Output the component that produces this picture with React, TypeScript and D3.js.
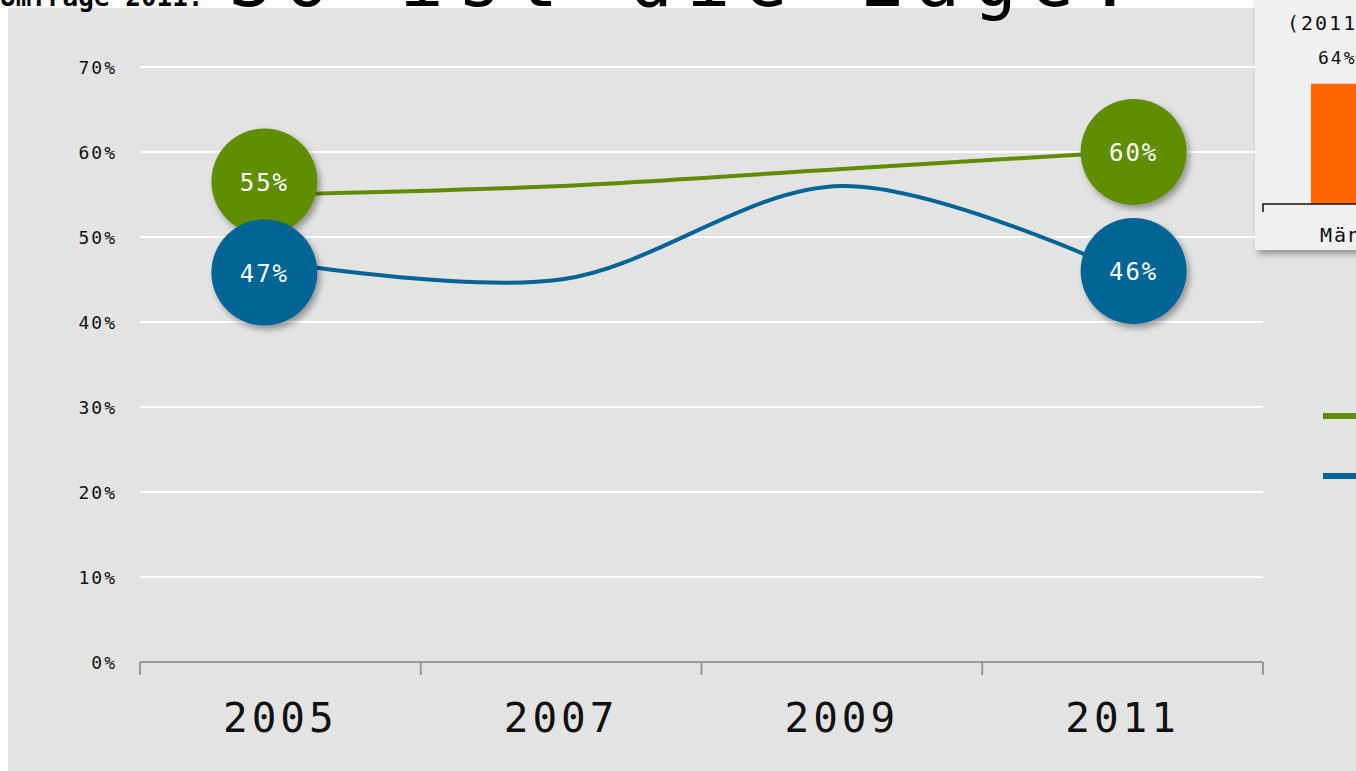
import { useEffect, useRef } from 'react';
import * as d3 from 'd3';

const years = ['2005', '2007', '2009', '2011'];
const greenValues = [55, 56, 58, 60];
const blueValues = [47, 45, 56, 46];
const yTicks = [0, 10, 20, 30, 40, 50, 60, 70];
const insetTitle = '(2011)';
const insetLabel = 'Männer';
const insetValue = [64];
const titleSmall = 'Umfrage 2011:';
const titleBig = 'So ist die Lage.';

const GREEN = '#5e8e00';
const BLUE = '#006595';
const FONT = '"DejaVu Sans Mono", monospace';

export default function App() {
	const svgRef = useRef<SVGSVGElement>(null);
	const width = 1356;
	const height = 771;

	useEffect(() => {
		const svg = d3.select(svgRef.current);
		svg.selectAll('*').remove();

		const defs = svg.append('defs');
		const f = defs.append('filter').attr('id', 'shadow')
			.attr('x', '-30%').attr('y', '-30%').attr('width', '160%').attr('height', '160%');
		f.append('feDropShadow').attr('dx', 3).attr('dy', 4).attr('stdDeviation', 3)
			.attr('flood-color', '#000').attr('flood-opacity', 0.35);

		// panel
		svg.append('rect').attr('x', 0).attr('y', 0).attr('width', width).attr('height', height).attr('fill', '#fff');
		svg.append('rect').attr('x', 8).attr('y', 8).attr('width', width - 8).attr('height', height - 8).attr('fill', '#e3e3e3');

		const left = 140, right = 1263, top = 67, bottom = 662;

		const x = d3.scaleBand().domain(years).range([left, right]);
		const y = d3.scaleLinear().domain([0, 70]).range([bottom, top]);
		const cx = (d: string) => (x(d) as number) + x.bandwidth() / 2;

		// grid
		svg.append('g').selectAll('line')
			.data(yTicks.filter(t => t > 0))
			.join('line')
			.attr('x1', left).attr('x2', right)
			.attr('y1', d => y(d)).attr('y2', d => y(d))
			.attr('stroke', '#fff').attr('stroke-width', 2);

		// y labels
		svg.append('g').selectAll('text')
			.data(yTicks)
			.join('text')
			.attr('x', 117).attr('y', d => y(d) + 7)
			.attr('text-anchor', 'end')
			.attr('font-family', FONT).attr('font-size', 18).attr('letter-spacing', 2)
			.attr('fill', '#111')
			.text(d => d + '%');

		// x axis
		const xAxis = svg.append('g');
		xAxis.append('line').attr('x1', left).attr('x2', right).attr('y1', bottom).attr('y2', bottom)
			.attr('stroke', '#999').attr('stroke-width', 2);
		const edges = years.map(d => x(d) as number).concat([right]);
		xAxis.selectAll('.tk').data(edges).join('line').attr('class', 'tk')
			.attr('x1', d => d).attr('x2', d => d).attr('y1', bottom).attr('y2', bottom + 13)
			.attr('stroke', '#999').attr('stroke-width', 2);
		xAxis.selectAll('text').data(years).join('text')
			.attr('x', d => cx(d)).attr('y', 732)
			.attr('text-anchor', 'middle')
			.attr('font-family', FONT).attr('font-size', 41).attr('letter-spacing', 4)
			.attr('fill', '#111')
			.text(d => d);

		// lines
		const line = d3.line<number>()
			.x((v, i) => cx(years[i]))
			.y(v => y(v))
			.curve(d3.curveCardinal);

		[[greenValues, GREEN], [blueValues, BLUE]].forEach(([vals, col]) => {
			svg.append('path')
				.datum(vals as number[])
				.attr('d', line)
				.attr('fill', 'none')
				.attr('stroke', col as string)
				.attr('stroke-width', 4);
		});

		// bubbles at first and last year, nudged apart
		const bubbles = [
			{ v: greenValues[0], yr: years[0], col: GREEN, dx: -16, dy: -13 },
			{ v: blueValues[0], yr: years[0], col: BLUE, dx: -16, dy: 10 },
			{ v: greenValues[3], yr: years[3], col: GREEN, dx: 11, dy: 0 },
			{ v: blueValues[3], yr: years[3], col: BLUE, dx: 11, dy: 0 },
		];
		const bg = svg.append('g').selectAll('g').data(bubbles).join('g')
			.attr('transform', d => `translate(${cx(d.yr) + d.dx},${y(d.v) + d.dy})`);
		bg.append('circle').attr('r', 53).attr('fill', d => d.col).attr('filter', 'url(#shadow)');
		bg.append('text').attr('y', 9).attr('text-anchor', 'middle')
			.attr('font-family', FONT).attr('font-size', 24).attr('letter-spacing', 2)
			.attr('fill', '#fff')
			.text(d => d.v + '%');

		// legend
		svg.append('g').selectAll('line').data([GREEN, BLUE]).join('line')
			.attr('x1', 1323).attr('x2', 1356)
			.attr('y1', (d, i) => 416 + i * 60).attr('y2', (d, i) => 416 + i * 60)
			.attr('stroke', d => d).attr('stroke-width', 6);

		// inset chart
		const inset = svg.append('g');
		inset.append('rect').attr('x', 1255).attr('y', -10).attr('width', 130).attr('height', 260)
			.attr('fill', '#f0f0f0').attr('filter', 'url(#shadow)');
		const iy = d3.scaleLinear().domain([0, 100]).range([204, 16]);
		inset.append('rect').attr('x', 1311).attr('width', 70)
			.attr('y', iy(insetValue[0])).attr('height', 204 - iy(insetValue[0]))
			.attr('fill', '#ff6600');
		inset.append('path').attr('d', 'M1263,212V204H1380').attr('fill', 'none')
			.attr('stroke', '#111').attr('stroke-width', 1.5);
		inset.append('text').attr('x', 1287).attr('y', 30)
			.attr('font-family', FONT).attr('font-size', 20).attr('letter-spacing', 2).attr('fill', '#111')
			.text(insetTitle);
		inset.append('text').attr('x', 1318).attr('y', 64)
			.attr('font-family', FONT).attr('font-size', 18).attr('letter-spacing', 2).attr('fill', '#111')
			.text(insetValue[0] + '%');
		inset.append('text').attr('x', 1320).attr('y', 242)
			.attr('font-family', FONT).attr('font-size', 20).attr('letter-spacing', 2).attr('fill', '#111')
			.text(insetLabel);

		// title, mostly cut off at the top
		svg.append('text').attr('x', 0).attr('y', 6)
			.attr('font-family', FONT).attr('font-size', 26).attr('font-weight', 'bold').attr('fill', '#000')
			.text(titleSmall);
		svg.append('text').attr('x', 228).attr('y', 6)
			.attr('font-family', FONT).attr('font-size', 72).attr('letter-spacing', 14).attr('fill', '#000')
			.text(titleBig);
	}, []);

	return (
		<svg ref={svgRef} width={width} height={height}
			style={{ position: 'absolute', left: 0, top: 0, display: 'block' }} />
	);
}
